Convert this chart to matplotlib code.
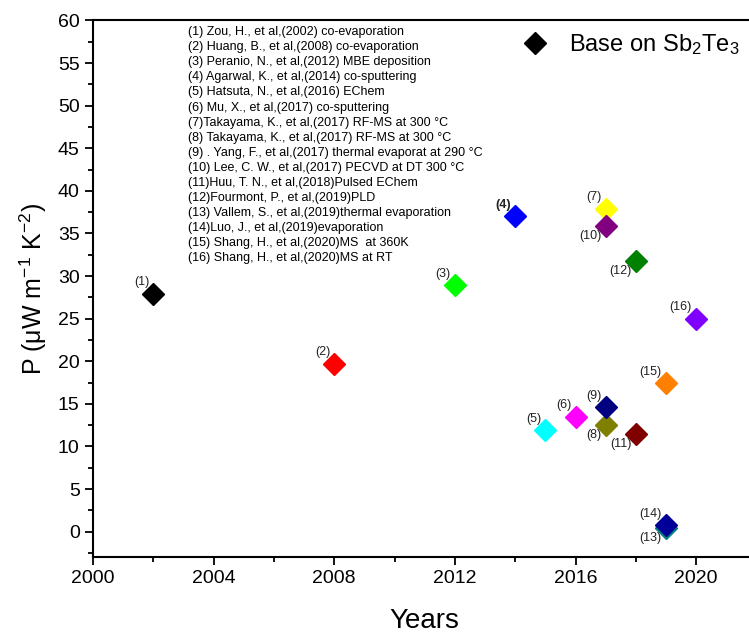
import matplotlib.pyplot as plt
from matplotlib.ticker import MultipleLocator, FixedLocator

plt.rcParams['font.family'] = ['Liberation Sans', 'DejaVu Sans']
plt.rcParams['mathtext.fontset'] = 'custom'
plt.rcParams['mathtext.rm'] = 'Liberation Sans'
plt.rcParams['mathtext.it'] = 'Liberation Sans:italic'

# datos
etiquetas = ['(1)', '(2)', '(3)', '(4)', '(5)', '(6)', '(7)', '(8)',
             '(9)', '(10)', '(11)', '(12)', '(13)', '(14)', '(15)', '(16)']
anios = [2002, 2008, 2012, 2014, 2015, 2016, 2017, 2017,
         2017, 2017, 2018, 2018, 2019, 2019, 2019, 2020]
potencia = [27.9, 19.7, 28.9, 37.0, 11.9, 13.5, 37.9, 12.5,
            14.6, 35.9, 11.5, 31.8, 0.4, 0.75, 17.4, 25.0]
colores = ['#000000', '#ff0000', '#00ff00', '#0000ff', '#00ffff', '#ff00ff',
           '#ffff00', '#808000', '#000080', '#800080', '#800000', '#008000',
           '#008080', '#000099', '#ff8000', '#8000ff']

referencias = [
    '(1) Zou, H., et al,(2002) co-evaporation',
    '(2) Huang, B., et al,(2008) co-evaporation',
    '(3) Peranio, N., et al,(2012) MBE deposition',
    '(4) Agarwal, K., et al,(2014) co-sputtering',
    '(5) Hatsuta, N., et al,(2016) EChem',
    '(6) Mu, X., et al,(2017) co-sputtering',
    '(7)Takayama, K., et al,(2017) RF-MS at 300 °C',
    '(8) Takayama, K., et al,(2017) RF-MS at 300 °C',
    '(9) . Yang, F., et al,(2017) thermal evaporat at 290 °C',
    '(10) Lee, C. W., et al,(2017) PECVD at DT 300 °C',
    '(11)Huu, T. N., et al,(2018)Pulsed EChem',
    '(12)Fourmont, P., et al,(2019)PLD',
    '(13) Vallem, S., et al,(2019)thermal evaporation',
    '(14)Luo, J., et al,(2019)evaporation',
    '(15) Shang, H., et al,(2020)MS  at 360K',
    '(16) Shang, H., et al,(2020)MS at RT',
]

# posicion de cada etiqueta: arriba-izquierda o abajo-izquierda
abajo = ['(8)', '(10)', '(11)', '(12)', '(13)']

fig = plt.figure(figsize=(7.49, 6.39), dpi=100)
ax = fig.add_axes([0.124, 0.128, 0.886, 0.84])

for i in range(len(anios)):
    ax.plot(anios[i], potencia[i], marker='D', ms=11, color=colores[i],
            linestyle='none', zorder=3 if etiquetas[i] != '(13)' else 2)
    if etiquetas[i] in abajo:
        ax.annotate(etiquetas[i], (anios[i], potencia[i]), xytext=(-3, -3),
                    textcoords='offset points', ha='right', va='top',
                    fontsize=9, color='#222222')
    else:
        ax.annotate(etiquetas[i], (anios[i], potencia[i]), xytext=(-3, 4),
                    textcoords='offset points', ha='right', va='bottom',
                    fontsize=9, color='#222222',
                    fontweight='bold' if etiquetas[i] == '(4)' else 'normal')

# entrada de leyenda
ax.plot([], [], marker='D', ms=11, color='black', linestyle='none',
        label='Base on Sb$_{\\mathrm{2}}$Te$_{\\mathrm{3}}$')
ax.legend(loc='center left', bbox_to_anchor=(524 / 749, 1 - 45 / 639),
          bbox_transform=fig.transFigure, frameon=False, fontsize=17,
          handlelength=0.95, handletextpad=0.95, borderpad=0, borderaxespad=0)

# lista de referencias, una linea cada 15 px
for i, txt in enumerate(referencias):
    fig.text(188 / 749, 1 - (32 + i * 15.1) / 639, txt, ha='left',
             va='center', fontsize=9)

ax.set_xlim(2000, 2022)
ax.set_ylim(-3, 60)
ax.xaxis.set_major_locator(FixedLocator([2000, 2004, 2008, 2012, 2016, 2020]))
ax.xaxis.set_minor_locator(MultipleLocator(2))
ax.yaxis.set_major_locator(MultipleLocator(5))
ax.yaxis.set_minor_locator(MultipleLocator(2.5))
ax.tick_params(which='major', direction='out', length=6, width=1.3,
               labelsize=14)
ax.tick_params(which='minor', direction='out', length=3.5, width=1.3)
for s in ax.spines.values():
    s.set_linewidth(1.5)

ax.set_xlabel('Years', fontsize=20, labelpad=15)
ax.set_ylabel('P (μW m$^{\\mathrm{-1}}$ K$^{\\mathrm{-2}}$)', fontsize=18,
              labelpad=6)

plt.savefig('out.png', dpi=100)
